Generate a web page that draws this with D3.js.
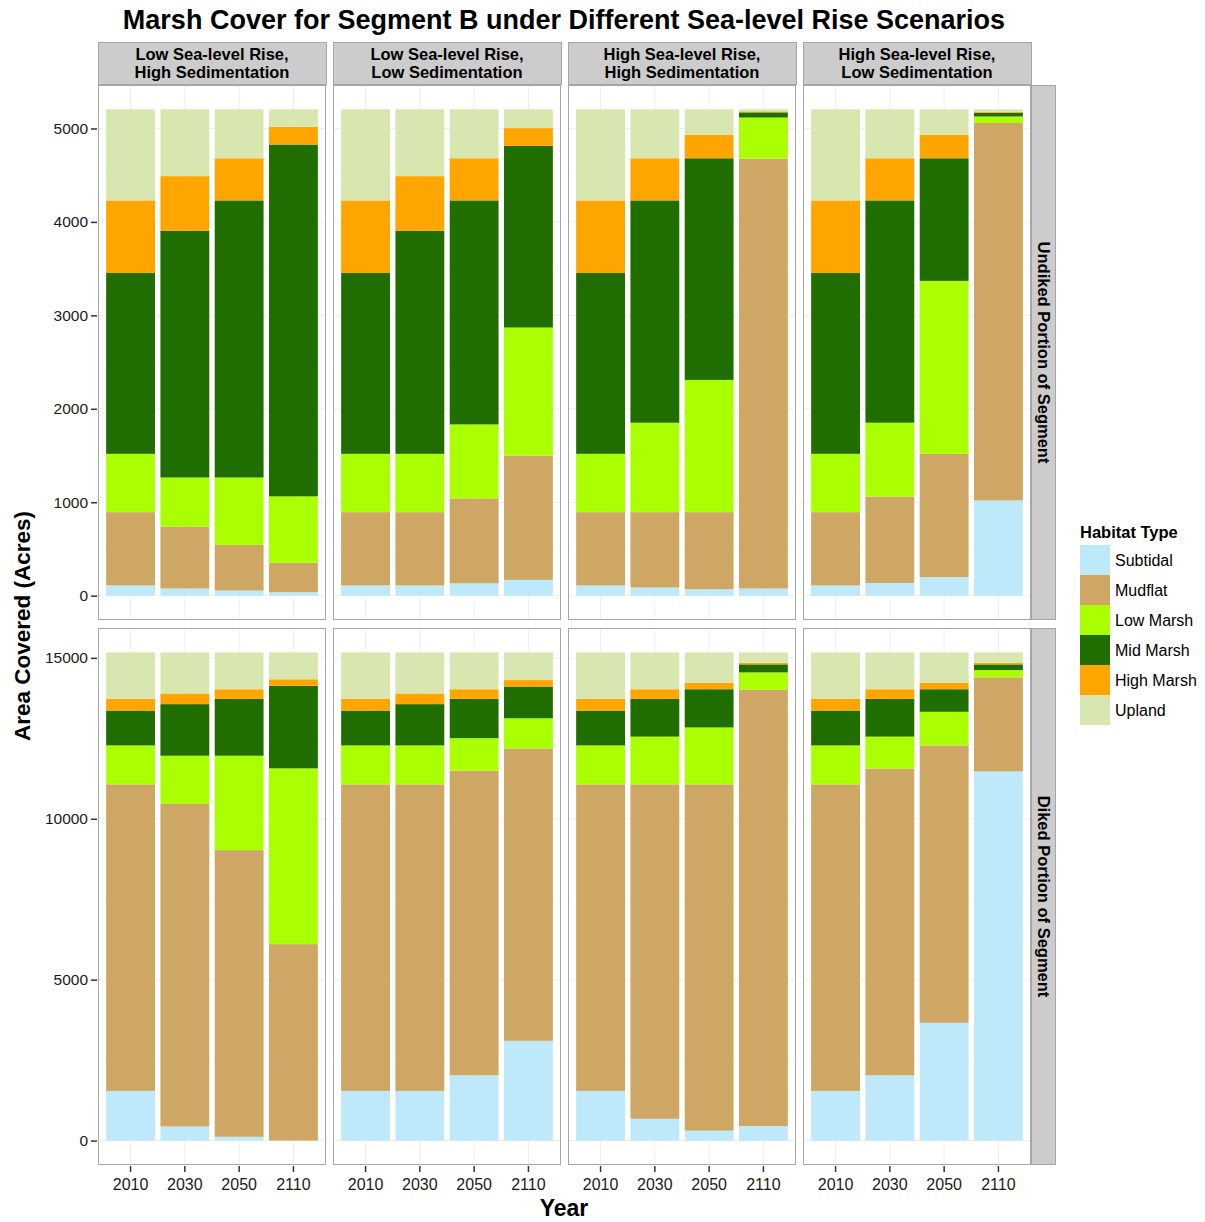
<!DOCTYPE html>
<html>
<head>
<meta charset="utf-8">
<script src="https://cdn.jsdelivr.net/npm/d3@7"></script>
<style>
  body { margin: 0; background: #fff; }
  text { font-family: "Liberation Sans", Arial, sans-serif; }
</style>
</head>
<body>
<div id="container"></div>
<script>
// Data (acres per habitat type, stacked bottom to top)
const years = ["2010", "2030", "2050", "2110"];
const habitats = ["Subtidal", "Mudflat", "Low Marsh", "Mid Marsh", "High Marsh", "Upland"];
const habitatColors = ["#bde9fa", "#cda763", "#aaff00", "#216e00", "#ffa500", "#d7e7af"];
const scenarios = [
    ["Low Sea-level Rise,", "High Sedimentation"],
    ["Low Sea-level Rise,", "Low Sedimentation"],
    ["High Sea-level Rise,", "High Sedimentation"],
    ["High Sea-level Rise,", "Low Sedimentation"]
];
const portions = ["Undiked Portion of Segment", "Diked Portion of Segment"];

// Undiked portion, one row per year: Subtidal, Mudflat, Low, Mid, High, Upland
const undikedLowSlrHighSed = [
    [110, 784, 624, 1935, 777, 975],
    [77, 663, 525, 2639, 586, 715],
    [55, 488, 722, 2965, 451, 524],
    [37, 315, 711, 3765, 190, 187]
];
const undikedLowSlrLowSed = [
    [110, 784, 624, 1935, 777, 975],
    [110, 784, 624, 2386, 586, 715],
    [132, 909, 792, 2397, 451, 524],
    [169, 1330, 1371, 1943, 191, 201]
];
const undikedHighSlrHighSed = [
    [110, 784, 624, 1935, 777, 975],
    [88, 806, 957, 2379, 451, 524],
    [70, 824, 1415, 2372, 249, 275],
    [77, 4600, 440, 55, 11, 22]
];
const undikedHighSlrLowSed = [
    [110, 784, 624, 1935, 777, 975],
    [136, 923, 792, 2379, 451, 524],
    [198, 1320, 1851, 1312, 249, 275],
    [1019, 4040, 69, 40, 12, 25]
];

// Diked portion
const dikedLowSlrHighSed = [
    [1544, 9525, 1211, 1081, 368, 1441],
    [440, 10023, 1497, 1603, 332, 1275],
    [119, 8907, 2934, 1769, 297, 1144],
    [0, 6105, 5463, 2565, 202, 835]
];
const dikedLowSlrLowSed = [
    [1544, 9525, 1211, 1081, 368, 1441],
    [1544, 9525, 1211, 1283, 332, 1275],
    [2031, 9465, 1010, 1223, 297, 1144],
    [3100, 9085, 939, 985, 202, 859]
];
const dikedHighSlrHighSed = [
    [1544, 9525, 1211, 1081, 368, 1441],
    [677, 10392, 1484, 1176, 297, 1144],
    [309, 10760, 1769, 1188, 202, 942],
    [451, 13563, 535, 249, 48, 324]
];
const dikedHighSlrLowSed = [
    [1544, 9525, 1211, 1081, 368, 1441],
    [2031, 9525, 997, 1176, 297, 1144],
    [3658, 8622, 1045, 701, 202, 942],
    [11473, 2921, 226, 178, 48, 324]
];

const panelData = [
    [undikedLowSlrHighSed, undikedLowSlrLowSed, undikedHighSlrHighSed, undikedHighSlrLowSed],
    [dikedLowSlrHighSed, dikedLowSlrLowSed, dikedHighSlrHighSed, dikedHighSlrLowSed]
];

// Layout
const width = 1205, height = 1222;
const colX = [98, 333, 568, 803];
const panelW = 228;
const rowY = [[85, 620], [628, 1165]];
const stripTop = 42;
const stripRightX = 1031, stripRightW = 24;

const svg = d3.select("#container").append("svg")
    .attr("width", width)
    .attr("height", height);

const color = d3.scaleOrdinal().domain(habitats).range(habitatColors);
const stack = d3.stack().keys(d3.range(habitats.length));

// title
svg.append("text")
    .attr("x", 564)
    .attr("y", 29)
    .attr("text-anchor", "middle")
    .attr("font-size", 27)
    .attr("font-weight", "bold")
    .text("Marsh Cover for Segment B under Different Sea-level Rise Scenarios");

// top strips
scenarios.forEach((lines, c) => {
    const g = svg.append("g");
    g.append("rect")
        .attr("x", colX[c] + 0.5)
        .attr("y", stripTop + 0.5)
        .attr("width", panelW)
        .attr("height", rowY[0][0] - stripTop - 1)
        .attr("fill", "#cccccc")
        .attr("stroke", "#a6a6a6");
    g.selectAll("text")
        .data(lines)
        .join("text")
        .attr("x", colX[c] + panelW / 2)
        .attr("y", (d, i) => 60 + i * 18)
        .attr("text-anchor", "middle")
        .attr("font-size", 16.5)
        .attr("font-weight", "bold")
        .text(d => d);
});

portions.forEach((portion, r) => {
    const [y0, y1] = rowY[r];
    const totals = panelData[r].flatMap(p => p.map(row => d3.sum(row)));
    const top = d3.max(totals);
    const pad = top * 0.05;
    const y = d3.scaleLinear().domain([-pad, top + pad]).range([y1, y0]);
    const majors = y.ticks(5).filter(t => t >= 0);
    const step = majors[1] - majors[0];
    const minors = d3.range(-step / 2, top + pad, step).filter(t => t > -pad && t < top + pad);

    // right strip
    svg.append("rect")
        .attr("x", stripRightX + 0.5)
        .attr("y", y0 + 0.5)
        .attr("width", stripRightW)
        .attr("height", y1 - y0 - 1)
        .attr("fill", "#cccccc")
        .attr("stroke", "#a6a6a6");
    svg.append("text")
        .attr("transform", `translate(${stripRightX + stripRightW / 2 + 1},${(y0 + y1) / 2}) rotate(90)`)
        .attr("text-anchor", "middle")
        .attr("dy", "0.35em")
        .attr("font-size", 16.5)
        .attr("font-weight", "bold")
        .text(portion);

    panelData[r].forEach((rows, c) => {
        const x = d3.scaleBand()
            .domain(years)
            .range([colX[c], colX[c] + panelW])
            .paddingInner(0.1)
            .paddingOuter(0.15);
        const g = svg.append("g");

        g.append("rect")
            .attr("x", colX[c])
            .attr("y", y0)
            .attr("width", panelW)
            .attr("height", y1 - y0)
            .attr("fill", "#fff");

        // grid
        g.selectAll(".minor")
            .data(minors)
            .join("line")
            .attr("x1", colX[c]).attr("x2", colX[c] + panelW)
            .attr("y1", d => y(d)).attr("y2", d => y(d))
            .attr("stroke", "#f8f8f8");
        g.selectAll(".major")
            .data(majors)
            .join("line")
            .attr("x1", colX[c]).attr("x2", colX[c] + panelW)
            .attr("y1", d => y(d)).attr("y2", d => y(d))
            .attr("stroke", "#eeeeee");
        g.selectAll(".vgrid")
            .data(years)
            .join("line")
            .attr("x1", d => x(d) + x.bandwidth() / 2)
            .attr("x2", d => x(d) + x.bandwidth() / 2)
            .attr("y1", y0).attr("y2", y1)
            .attr("stroke", "#eeeeee");

        // stacked bars
        const series = stack(rows);
        g.selectAll(".layer")
            .data(series)
            .join("g")
            .attr("fill", d => color(habitats[d.key]))
            .selectAll("rect")
            .data(d => d)
            .join("rect")
            .attr("x", (d, i) => x(years[i]))
            .attr("width", x.bandwidth())
            .attr("y", d => y(d[1]))
            .attr("height", d => Math.max(0, y(d[0]) - y(d[1])));

        // border
        g.append("rect")
            .attr("x", colX[c] + 0.5)
            .attr("y", y0 + 0.5)
            .attr("width", panelW - 1)
            .attr("height", y1 - y0 - 1)
            .attr("fill", "none")
            .attr("stroke", "#a6a6a6");

        // y axis on first column
        if (c === 0) {
            const ax = svg.append("g")
                .attr("transform", `translate(${colX[0]},0)`)
                .call(d3.axisLeft(y).tickValues(majors).tickSize(6).tickPadding(4).tickFormat(d3.format("d")));
            ax.select(".domain").remove();
            ax.selectAll(".tick line").attr("stroke", "#333").attr("stroke-width", 1.5).attr("transform", "translate(-1,0)");
            ax.selectAll(".tick text")
                .attr("font-size", 15.5)
                .attr("font-family", "Liberation Sans, Arial, sans-serif")
                .attr("fill", "#1a1a1a");
        }

        // x axis on bottom row
        if (r === portions.length - 1) {
            const ax = svg.append("g")
                .attr("transform", `translate(0,${y1})`)
                .call(d3.axisBottom(x).tickSize(6).tickPadding(8));
            ax.select(".domain").remove();
            ax.selectAll(".tick line").attr("stroke", "#333").attr("stroke-width", 1.5).attr("transform", "translate(0,1)");
            ax.selectAll(".tick text")
                .attr("font-size", 16)
                .attr("font-family", "Liberation Sans, Arial, sans-serif")
                .attr("fill", "#1a1a1a");
        }
    });
});

// axis titles
svg.append("text")
    .attr("x", 564)
    .attr("y", 1216)
    .attr("text-anchor", "middle")
    .attr("font-size", 23)
    .attr("font-weight", "bold")
    .text("Year");
svg.append("text")
    .attr("transform", "translate(30,626) rotate(-90)")
    .attr("text-anchor", "middle")
    .attr("font-size", 22.5)
    .attr("font-weight", "bold")
    .text("Area Covered (Acres)");

// legend
const legend = svg.append("g").attr("transform", "translate(1080,545)");
legend.append("text")
    .attr("x", 0)
    .attr("y", -7)
    .attr("font-size", 16.5)
    .attr("font-weight", "bold")
    .text("Habitat Type");
const item = legend.selectAll(".item")
    .data(habitats)
    .join("g")
    .attr("transform", (d, i) => `translate(0,${i * 30})`);
item.append("rect")
    .attr("width", 30)
    .attr("height", 30)
    .attr("fill", d => color(d));
item.append("text")
    .attr("x", 35)
    .attr("y", 15)
    .attr("dy", "0.35em")
    .attr("font-size", 16)
    .text(d => d);
</script>
</body>
</html>
